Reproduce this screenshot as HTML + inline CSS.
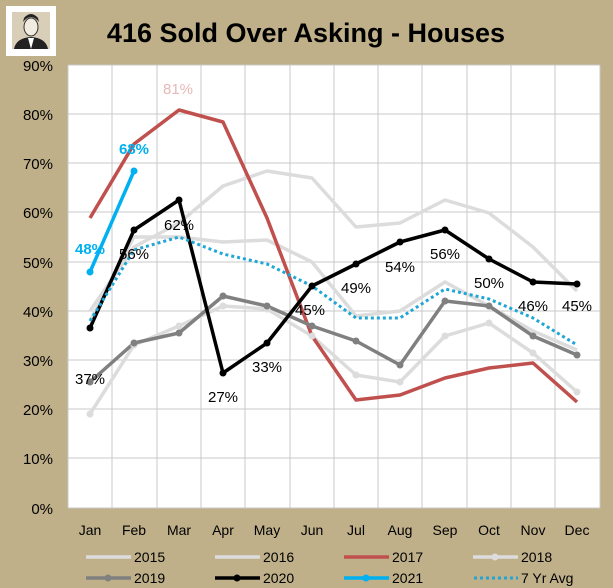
<!DOCTYPE html>
<html><head><style>body{margin:0;background:#bfb08a}svg{display:block}</style></head><body>
<svg width="613" height="588" xmlns="http://www.w3.org/2000/svg" font-family="Liberation Sans, sans-serif">
<rect width="613" height="588" fill="#bfb08a"/>
<rect x="6" y="6" width="50" height="50" fill="#fff"/>
<rect x="12" y="12" width="38" height="37" fill="#d9cfb8"/>
<ellipse cx="31" cy="27" rx="7" ry="9" fill="#f2ece0" stroke="#333"/>
<path d="M23 22 Q31 12 39 22 L38 18 Q31 10 24 18Z" fill="#222"/>
<path d="M14 49 Q16 38 31 37 Q46 38 48 49Z" fill="#222"/>
<path d="M28 38 L31 49 L34 38Z" fill="#fff"/>
<text x="306" y="42" text-anchor="middle" font-size="27" font-weight="bold">416 Sold Over Asking - Houses</text>
<rect x="68" y="65" width="532" height="443" fill="#fff"/>
<g stroke="#c8c8c8" stroke-width="1">
<line x1="68" y1="65" x2="600" y2="65"/><line x1="68" y1="114" x2="600" y2="114"/><line x1="68" y1="163" x2="600" y2="163"/><line x1="68" y1="212" x2="600" y2="212"/><line x1="68" y1="262" x2="600" y2="262"/><line x1="68" y1="311" x2="600" y2="311"/><line x1="68" y1="360" x2="600" y2="360"/><line x1="68" y1="409" x2="600" y2="409"/><line x1="68" y1="458" x2="600" y2="458"/><line x1="68" y1="508" x2="600" y2="508"/>
<line x1="68" y1="65" x2="68" y2="508"/><line x1="112" y1="65" x2="112" y2="508"/><line x1="157" y1="65" x2="157" y2="508"/><line x1="201" y1="65" x2="201" y2="508"/><line x1="245" y1="65" x2="245" y2="508"/><line x1="290" y1="65" x2="290" y2="508"/><line x1="334" y1="65" x2="334" y2="508"/><line x1="378" y1="65" x2="378" y2="508"/><line x1="422" y1="65" x2="422" y2="508"/><line x1="467" y1="65" x2="467" y2="508"/><line x1="511" y1="65" x2="511" y2="508"/><line x1="555" y1="65" x2="555" y2="508"/><line x1="600" y1="65" x2="600" y2="508"/>
</g>
<g font-size="15" text-anchor="end" fill="#000">
<text x="53" y="71">90%</text><text x="53" y="120">80%</text><text x="53" y="169">70%</text><text x="53" y="218">60%</text><text x="53" y="268">50%</text><text x="53" y="317">40%</text><text x="53" y="366">30%</text><text x="53" y="415">20%</text><text x="53" y="464">10%</text><text x="53" y="514">0%</text>
</g>
<g font-size="14" text-anchor="middle">
<text x="90" y="535">Jan</text><text x="134" y="535">Feb</text><text x="179" y="535">Mar</text><text x="223" y="535">Apr</text><text x="267" y="535">May</text><text x="312" y="535">Jun</text><text x="356" y="535">Jul</text><text x="400" y="535">Aug</text><text x="445" y="535">Sep</text><text x="489" y="535">Oct</text><text x="533" y="535">Nov</text><text x="577" y="535">Dec</text>
</g>
<g fill="none" stroke-width="3.5" stroke-linejoin="round">
<polyline stroke="#dcdcdc" points="90,311 134,247 179,223 223,186 267,171 312,178 356,227 400,223 445,200 489,213 533,247 577,291"/>
<polyline stroke="#dcdcdc" points="90,321 134,237 179,237 223,242 267,240 312,262 356,316 400,311 445,282 489,306 533,331 577,350"/>
<polyline stroke="#dcdcdc" points="90,414 134,345 179,326 223,306 267,309 312,336 356,375 400,382 445,336 489,323 533,353 577,392"/>
<polyline stroke="#c0504d" points="90,218 134,144 179,110 223,122 267,218 312,336 356,400 400,395 445,378 489,368 533,363 577,402"/>
<polyline stroke="#808080" points="90,382 134,343 179,333 223,296 267,306 312,326 356,341 400,365 445,301 489,306 533,336 577,355"/>
<polyline stroke="#000" points="90,328 134,230 179,200 223,373 267,343 312,286 356,264 400,242 445,230 489,259 533,282 577,284"/>
<polyline stroke="#00b0f0" points="90,272 134,171"/>
<polyline stroke="#1fa6d6" stroke-width="3" stroke-dasharray="3,3" points="90,321 134,250 179,237 223,254 267,264 312,286 356,318 400,318 445,289 489,299 533,318 577,345"/>
</g>
<g fill="#dcdcdc"><circle cx="90" cy="414" r="3.5"/><circle cx="134" cy="345" r="3.5"/><circle cx="179" cy="326" r="3.5"/><circle cx="223" cy="306" r="3.5"/><circle cx="267" cy="309" r="3.5"/><circle cx="312" cy="336" r="3.5"/><circle cx="356" cy="375" r="3.5"/><circle cx="400" cy="382" r="3.5"/><circle cx="445" cy="336" r="3.5"/><circle cx="489" cy="323" r="3.5"/><circle cx="533" cy="353" r="3.5"/><circle cx="577" cy="392" r="3.5"/></g>
<g fill="#808080"><circle cx="90" cy="382" r="3.5"/><circle cx="134" cy="343" r="3.5"/><circle cx="179" cy="333" r="3.5"/><circle cx="223" cy="296" r="3.5"/><circle cx="267" cy="306" r="3.5"/><circle cx="312" cy="326" r="3.5"/><circle cx="356" cy="341" r="3.5"/><circle cx="400" cy="365" r="3.5"/><circle cx="445" cy="301" r="3.5"/><circle cx="489" cy="306" r="3.5"/><circle cx="533" cy="336" r="3.5"/><circle cx="577" cy="355" r="3.5"/></g>
<g fill="#000"><circle cx="90" cy="328" r="3.5"/><circle cx="134" cy="230" r="3.5"/><circle cx="179" cy="200" r="3.5"/><circle cx="223" cy="373" r="3.5"/><circle cx="267" cy="343" r="3.5"/><circle cx="312" cy="286" r="3.5"/><circle cx="356" cy="264" r="3.5"/><circle cx="400" cy="242" r="3.5"/><circle cx="445" cy="230" r="3.5"/><circle cx="489" cy="259" r="3.5"/><circle cx="533" cy="282" r="3.5"/><circle cx="577" cy="284" r="3.5"/></g>
<g fill="#00b0f0"><circle cx="90" cy="272" r="3.5"/><circle cx="134" cy="171" r="3.5"/></g>
<g font-size="15" text-anchor="middle">
<text x="178" y="94" fill="#e6b8b7">81%</text>
<text x="90" y="384">37%</text><text x="134" y="259">56%</text><text x="179" y="230">62%</text><text x="223" y="402">27%</text><text x="267" y="372">33%</text><text x="310" y="315">45%</text><text x="356" y="293">49%</text><text x="400" y="272">54%</text><text x="445" y="259">56%</text><text x="489" y="288">50%</text><text x="533" y="311">46%</text><text x="577" y="311">45%</text>
<text x="90" y="254" font-weight="bold" fill="#00b0f0">48%</text><text x="134" y="154" font-weight="bold" fill="#00b0f0">68%</text>
</g>
<g font-size="14">
<line x1="86" y1="557" x2="131" y2="557" stroke="#dcdcdc" stroke-width="3.5"/><text x="134" y="562">2015</text>
<line x1="215" y1="557" x2="260" y2="557" stroke="#dcdcdc" stroke-width="3.5"/><text x="263" y="562">2016</text>
<line x1="344" y1="557" x2="389" y2="557" stroke="#c0504d" stroke-width="3.5"/><text x="392" y="562">2017</text>
<line x1="473" y1="557" x2="518" y2="557" stroke="#dcdcdc" stroke-width="3.5"/><circle cx="495" cy="557" r="3.5" fill="#dcdcdc"/><text x="521" y="562">2018</text>
<line x1="86" y1="578" x2="131" y2="578" stroke="#808080" stroke-width="3.5"/><circle cx="108" cy="578" r="3.5" fill="#808080"/><text x="134" y="583">2019</text>
<line x1="215" y1="578" x2="260" y2="578" stroke="#000" stroke-width="3.5"/><circle cx="237" cy="578" r="3.5" fill="#000"/><text x="263" y="583">2020</text>
<line x1="344" y1="578" x2="389" y2="578" stroke="#00b0f0" stroke-width="3.5"/><circle cx="366" cy="578" r="3.5" fill="#00b0f0"/><text x="392" y="583">2021</text>
<line x1="474" y1="578" x2="518" y2="578" stroke="#1fa6d6" stroke-width="3" stroke-dasharray="3,3"/><text x="521" y="583">7 Yr Avg</text>
</g>
</svg>
</body></html>
